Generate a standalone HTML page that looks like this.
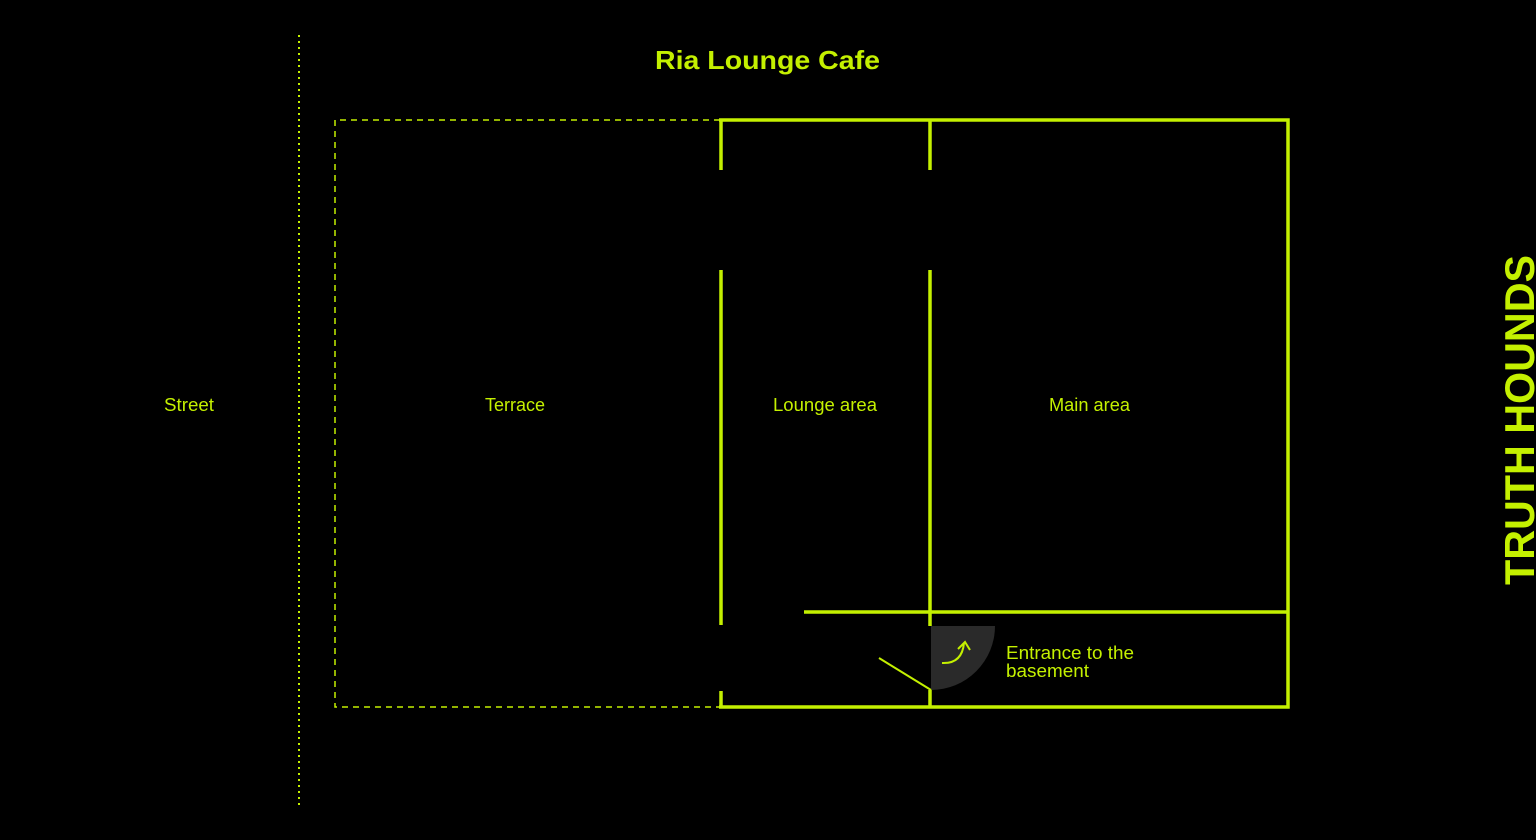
<!DOCTYPE html>
<html><head><meta charset="utf-8"><style>
html,body{margin:0;padding:0;background:#000;}
svg{display:block}
text{font-family:"Liberation Sans",sans-serif;fill:#c4f000}
</style></head><body>
<svg width="1536" height="840" viewBox="0 0 1536 840">
<rect width="1536" height="840" fill="#000"/>
<g stroke="#c4f000" fill="none">
<line x1="299" y1="35" x2="299" y2="805" stroke-width="2" stroke-dasharray="2 4"/>
<path d="M720 120 H335 V707 H720" stroke-width="1.5" stroke-dasharray="6 5"/>
<g stroke-width="3.5">
<path d="M719 120 H1288 V707 H719"/>
<line x1="721" y1="120" x2="721" y2="170"/>
<line x1="721" y1="270" x2="721" y2="625"/>
<line x1="721" y1="691" x2="721" y2="707"/>
<line x1="930" y1="120" x2="930" y2="170"/>
<line x1="930" y1="270" x2="930" y2="626"/>
<line x1="930" y1="690" x2="930" y2="707"/>
<line x1="804" y1="612" x2="1288" y2="612"/>
</g>
</g>
<path d="M931 626 H995 A64 64 0 0 1 931 690 Z" fill="#2a2a2a"/>
<line x1="879" y1="658" x2="931" y2="690" stroke="#c4f000" stroke-width="2"/>
<path d="M942 663 Q962 664 964 643 M958 649 L965 642 L970 650" stroke="#c4f000" stroke-width="2" fill="none"/>
<text x="655" y="69" font-size="26" font-weight="bold" textLength="225" lengthAdjust="spacingAndGlyphs">Ria Lounge Cafe</text>
<text x="164" y="411" font-size="18" textLength="50" lengthAdjust="spacingAndGlyphs">Street</text>
<text x="485" y="411" font-size="18" textLength="60" lengthAdjust="spacingAndGlyphs">Terrace</text>
<text x="773" y="411" font-size="18" textLength="104" lengthAdjust="spacingAndGlyphs">Lounge area</text>
<text x="1049" y="411" font-size="18" textLength="81" lengthAdjust="spacingAndGlyphs">Main area</text>
<text x="1006" y="659" font-size="18" textLength="128" lengthAdjust="spacingAndGlyphs">Entrance to the</text>
<text x="1006" y="677" font-size="18" textLength="83" lengthAdjust="spacingAndGlyphs">basement</text>
<text transform="translate(1534,420) rotate(-90)" font-size="42" font-weight="bold" text-anchor="middle" textLength="330" lengthAdjust="spacingAndGlyphs">TRUTH HOUNDS</text>
</svg>
</body></html>
